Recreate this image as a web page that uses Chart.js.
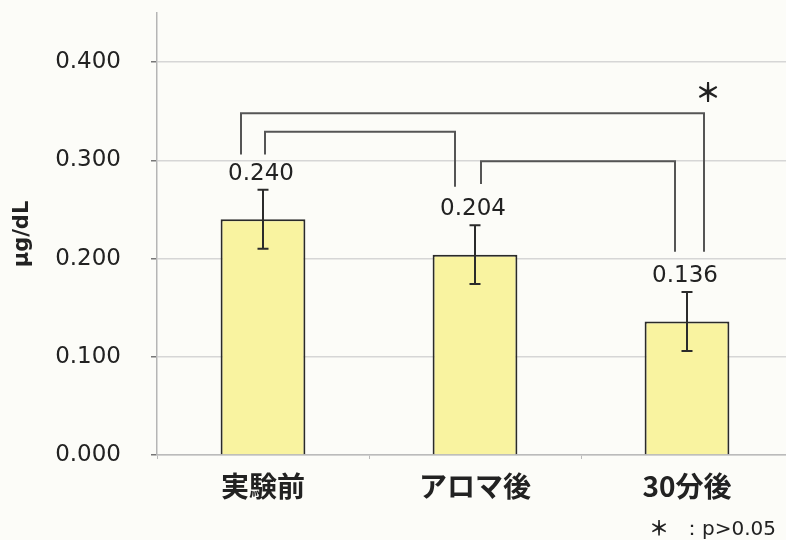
<!DOCTYPE html>
<html>
<head>
<meta charset="utf-8">
<script src="https://cdn.jsdelivr.net/npm/chart.js@4"></script>
<style>
  html, body { margin: 0; padding: 0; background: #fcfcf8; overflow: hidden; }
  #wrap { width: 793px; height: 540px; }
</style>
</head>
<body>
<div id="wrap"><canvas id="chart"></canvas></div>
<script>
// Chart data
const categories = ['実験前', 'アロマ後', '30分後'];
const means = [0.240, 0.204, 0.136];
const errors = [0.030, 0.030, 0.030];
const valueLabels = ['0.240', '0.204', '0.136'];
const yTicks = [0.000, 0.100, 0.200, 0.300, 0.400];

// Significance brackets: bar pairs, top height and leg ends (in μg/dL)
const bracketPairs = [[0, 2], [0, 1], [1, 2]];
const bracketTops = [0.348, 0.329, 0.299];
const bracketEnds = [[0.306, 0.207], [0.306, 0.273], [0.276, 0.207]];
const bracketMarks = ['＊', '', ''];
const footnoteMark = '＊';
const footnoteText = '：p>0.05';

const numFont = '"DejaVu Sans", sans-serif';
const jpFont = '"Noto Sans CJK JP", sans-serif';

// Background, error bars, labels and brackets
const overlayPlugin = {
    id: 'overlay',
    beforeDraw(chart) {
        const ctx = chart.ctx;
        ctx.save();
        ctx.fillStyle = '#fcfcf8';
        ctx.fillRect(0, 0, chart.width, chart.height);
        ctx.restore();
    },
    afterDatasetsDraw(chart) {
        const ctx = chart.ctx;
        const y = chart.scales.y;
        const bars = chart.getDatasetMeta(0).data;

        ctx.save();
        // error bars
        ctx.strokeStyle = '#2b2b2b';
        ctx.lineWidth = 2;
        bars.forEach((bar, i) => {
            const top = y.getPixelForValue(means[i] + errors[i]);
            const bottom = y.getPixelForValue(means[i] - errors[i]);
            ctx.beginPath();
            ctx.moveTo(bar.x, top);
            ctx.lineTo(bar.x, bottom);
            ctx.moveTo(bar.x - 5.5, top);
            ctx.lineTo(bar.x + 5.5, top);
            ctx.moveTo(bar.x - 5.5, bottom);
            ctx.lineTo(bar.x + 5.5, bottom);
            ctx.stroke();
        });

        // value labels
        ctx.fillStyle = '#222';
        ctx.font = '23px ' + numFont;
        ctx.textAlign = 'center';
        ctx.textBaseline = 'alphabetic';
        bars.forEach((bar, i) => {
            const top = y.getPixelForValue(means[i] + errors[i]);
            ctx.fillText(valueLabels[i], bar.x - 2, top - 10);
        });

        // brackets
        const legShift = [[-22, 17], [2, -20], [6, -12]];
        ctx.strokeStyle = '#555';
        ctx.lineWidth = 2;
        bracketPairs.forEach((pair, k) => {
            const x1 = bars[pair[0]].x + legShift[k][0];
            const x2 = bars[pair[1]].x + legShift[k][1];
            const yt = y.getPixelForValue(bracketTops[k]);
            ctx.beginPath();
            ctx.moveTo(x1, y.getPixelForValue(bracketEnds[k][0]));
            ctx.lineTo(x1, yt);
            ctx.lineTo(x2, yt);
            ctx.lineTo(x2, y.getPixelForValue(bracketEnds[k][1]));
            ctx.stroke();
            if (bracketMarks[k]) {
                ctx.fillStyle = '#222';
                ctx.font = 'bold 26px ' + jpFont;
                ctx.textBaseline = 'middle';
                ctx.fillText(bracketMarks[k], x2 + 4, yt - 21);
            }
        });

        // footnote
        ctx.fillStyle = '#222';
        ctx.textBaseline = 'alphabetic';
        ctx.textAlign = 'left';
        ctx.font = 'bold 20px ' + jpFont;
        ctx.fillText(footnoteMark, 649, 536);
        ctx.textAlign = 'right';
        ctx.font = '20px ' + numFont;
        ctx.fillText(footnoteText, 776, 535);
        ctx.restore();
    }
};

const chart = new Chart(document.getElementById('chart'), {
    type: 'bar',
    data: {
        labels: categories,
        datasets: [{
            data: means,
            backgroundColor: '#f9f3a0',
            borderColor: '#2a2a2a',
            borderWidth: 2,
            barPercentage: 0.4,
            categoryPercentage: 1.0
        }]
    },
    options: {
        responsive: true,
        maintainAspectRatio: false,
        animation: false,
        layout: {
            padding: 0
        },
        plugins: {
            legend: { display: false },
            tooltip: { enabled: false }
        },
        scales: {
            x: {
                grid: {
                    display: true,
                    drawOnChartArea: false,
                    tickLength: 4,
                    tickColor: '#bbb'
                },
                border: { color: '#bbb', width: 1.5 },
                ticks: {
                    color: '#222',
                    padding: 11,
                    font: { family: jpFont, size: 28, weight: 'bold' }
                },
                afterFit(scale) { scale.height = 85; }
            },
            y: {
                min: 0,
                max: 0.45,
                afterBuildTicks(scale) {
                    scale.ticks = yTicks.map(v => ({ value: v }));
                },
                grid: {
                    color: '#d6d6d6',
                    lineWidth: 1.5,
                    tickLength: 6,
                    tickColor: '#777'
                },
                border: { color: '#b5b5b5', width: 1.5 },
                ticks: {
                    color: '#222',
                    padding: 30,
                    font: { family: numFont, size: 23 },
                    callback: v => v.toFixed(3)
                },
                title: {
                    display: true,
                    text: 'μg/dL',
                    color: '#222',
                    font: { family: numFont, size: 21, weight: 'bold' },
                    padding: { top: 10, bottom: 0 }
                },
                afterFit(scale) {
                    scale.width = 157;
                    scale.paddingTop = 13;
                    scale.paddingBottom = 0;
                }
            }
        }
    },
    plugins: [overlayPlugin]
});
</script>
</body>
</html>
